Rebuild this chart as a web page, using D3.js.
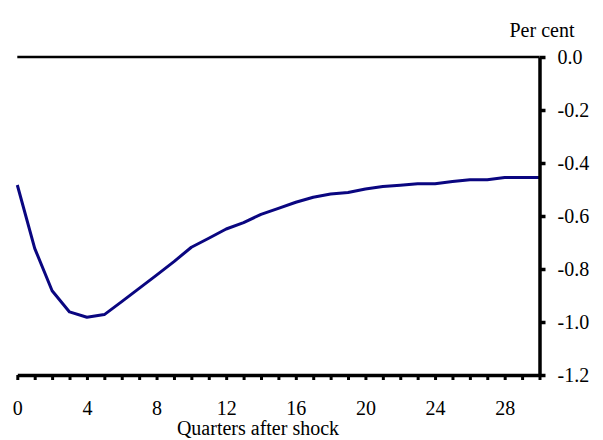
<!DOCTYPE html>
<html>
<head>
<meta charset="utf-8">
<script src="https://cdn.jsdelivr.net/npm/d3@7"></script>
<style>
  html, body { margin: 0; padding: 0; background: #fff; }
  svg { display: block; font-family: "Liberation Serif", "Times New Roman", serif; }
</style>
</head>
<body>
<svg id="chart" width="603" height="440"></svg>
<script>
// Data
const quarters = d3.range(0, 31);
const response = [-0.483, -0.722, -0.882, -0.962, -0.982, -0.972, -0.923, -0.873, -0.823, -0.772,
                  -0.718, -0.684, -0.649, -0.625, -0.594, -0.571, -0.548, -0.529, -0.517, -0.511,
                  -0.498, -0.489, -0.484, -0.478, -0.478, -0.470, -0.463, -0.463, -0.455, -0.455, -0.455];
const yTicks = [0, -0.2, -0.4, -0.6, -0.8, -1.0, -1.2];
const xLabelTicks = [0, 4, 8, 12, 16, 20, 24, 28];
const yUnit = "Per cent";
const xTitle = "Quarters after shock";

const svg = d3.select("#chart");
const x = d3.scaleLinear().domain([0, 30]).range([17.3, 539.5]);
const y = d3.scaleLinear().domain([-1.2, 0]).range([375, 57]);

// series line
const line = d3.line().x((d, i) => x(quarters[i])).y(d => y(d));
svg.append("path")
  .datum(response)
  .attr("d", line)
  .attr("fill", "none")
  .attr("stroke", "#0a0680")
  .attr("stroke-width", 3)
  .attr("stroke-linejoin", "round");

// zero line
svg.append("line")
  .attr("x1", x(0)).attr("x2", x(30))
  .attr("y1", y(0)).attr("y2", y(0))
  .attr("stroke", "#000").attr("stroke-width", 2.5);

// x axis
const xAxis = d3.axisBottom(x)
  .tickValues(quarters)
  .tickSize(5)
  .tickSizeOuter(0)
  .tickPadding(21)
  .tickFormat(d => xLabelTicks.includes(d) ? String(d) : "");
const gx = svg.append("g").attr("transform", `translate(0,${y(-1.2)})`).call(xAxis);
gx.select(".domain").attr("stroke", "#000").attr("stroke-width", 3.5);
gx.selectAll(".tick line").attr("stroke", "#000").attr("stroke-width", 3);
gx.selectAll(".tick text").attr("font-size", 20).attr("fill", "#000")
  .attr("font-family", "Liberation Serif, Times New Roman, serif");

// y axis
const yAxis = d3.axisRight(y)
  .tickValues(yTicks)
  .tickSize(6)
  .tickSizeOuter(0)
  .tickPadding(12)
  .tickFormat(d => d.toFixed(1).replace("-0.0", "0.0"));
const gy = svg.append("g").attr("transform", `translate(${x(30)},0)`).call(yAxis);
gy.select(".domain").attr("stroke", "#000").attr("stroke-width", 3.5);
gy.selectAll(".tick line").attr("stroke", "#000").attr("stroke-width", 3.5);
gy.selectAll(".tick text").attr("font-size", 20).attr("fill", "#000")
  .attr("font-family", "Liberation Serif, Times New Roman, serif");

// unit label
svg.append("text")
  .attr("x", 542).attr("y", 37)
  .attr("text-anchor", "middle")
  .attr("font-size", 20)
  .text(yUnit);

// x title
svg.append("text")
  .attr("x", 258).attr("y", 435)
  .attr("text-anchor", "middle")
  .attr("font-size", 20)
  .text(xTitle);
</script>
</body>
</html>
